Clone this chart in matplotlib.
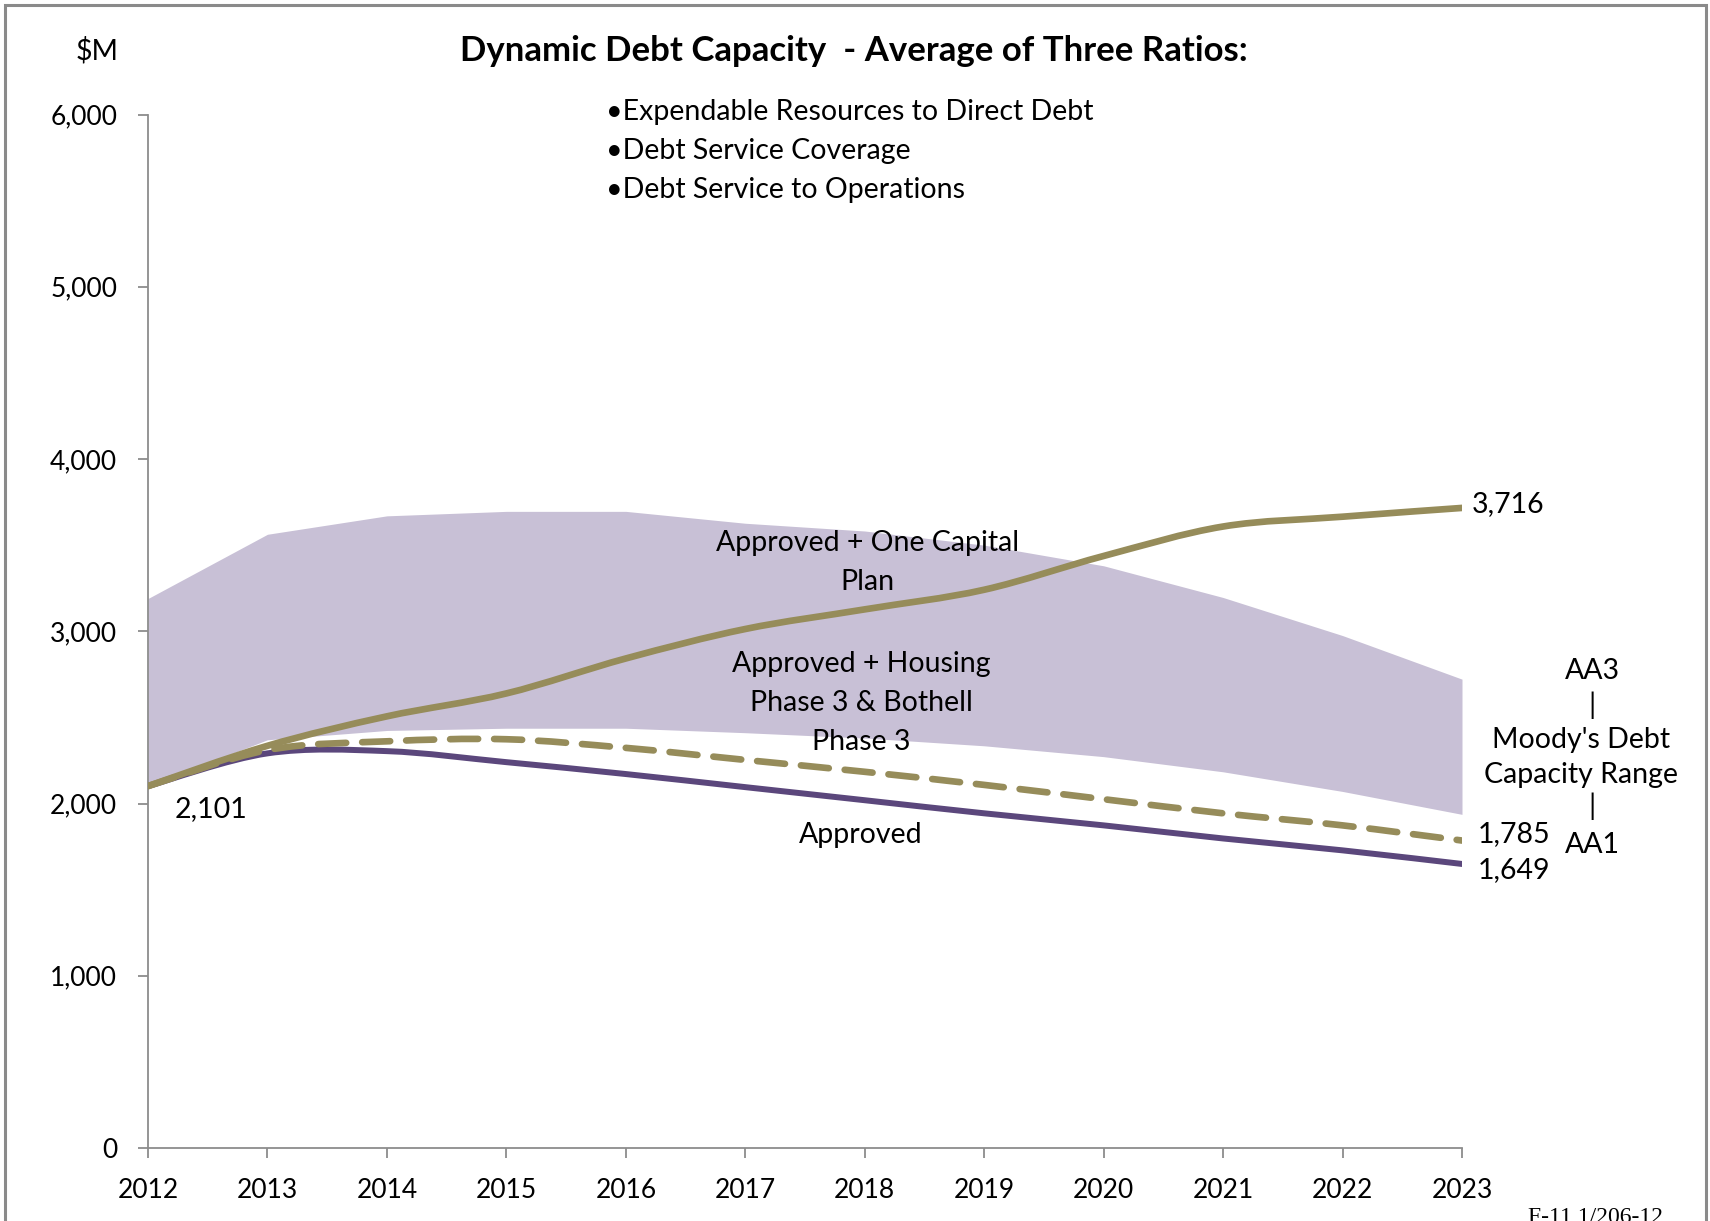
import matplotlib
matplotlib.use("Agg")
import matplotlib.pyplot as plt
from matplotlib.path import Path
from matplotlib.patches import PathPatch, Rectangle
import numpy as np

# ---- data ----
years = [2012, 2013, 2014, 2015, 2016, 2017, 2018, 2019, 2020, 2021, 2022, 2023]
band_low = [2101, 2370, 2424, 2437, 2437, 2411, 2380, 2335, 2272, 2184, 2070, 1937]
band_high = [3190, 3563, 3670, 3696, 3696, 3627, 3582, 3500, 3380, 3196, 2975, 2722]
one_capital = [2101, 2335, 2506, 2639, 2842, 3013, 3127, 3241, 3437, 3608, 3665, 3716]
housing_bothell = [2101, 2310, 2361, 2373, 2323, 2253, 2184, 2108, 2025, 1943, 1873, 1785]
approved = [2101, 2291, 2304, 2240, 2171, 2095, 2019, 1943, 1873, 1797, 1728, 1649]
yticks = [0, 1000, 2000, 3000, 4000, 5000, 6000]

FONT = ["Lato", "DejaVu Sans"]
plt.rcParams['font.family'] = FONT

GOLD = "#968C5A"
PURPLE = "#5B477C"
BAND = "#C8C0D6"
GREY = "#8C8C8C"
FS = 20.5

W, H = 1710, 1221
fig = plt.figure(figsize=(W / 100, H / 100), dpi=100)
ax = fig.add_axes([148 / W, 1 - 1148 / H, (1462 - 148) / W, (1148 - 114.5) / H])


def smooth_path(xs, ys):
    pts = np.column_stack([xs, ys]).astype(float)
    n = len(pts)
    verts = [pts[0]]
    codes = [Path.MOVETO]
    for i in range(n - 1):
        p0 = pts[i - 1] if i > 0 else pts[i]
        p1 = pts[i]
        p2 = pts[i + 1]
        p3 = pts[i + 2] if i + 2 < n else pts[i + 1]
        c1 = p1 + (p2 - p0) / 6.0
        c2 = p2 - (p3 - p1) / 6.0
        verts += [c1, c2, p2]
        codes += [Path.CURVE4] * 3
    return Path(verts, codes)


ax.fill_between(years, band_low, band_high, color=BAND, linewidth=0, zorder=1)

ax.add_patch(PathPatch(smooth_path(years, approved), fill=False, edgecolor=PURPLE,
                       linewidth=4.3, capstyle='round', zorder=3))
ax.add_patch(PathPatch(smooth_path(years, housing_bothell), fill=False, edgecolor=GOLD,
                       linewidth=4.8, linestyle=(0, (4.2, 2.4)), capstyle='round', zorder=4))
ax.add_patch(PathPatch(smooth_path(years, one_capital), fill=False, edgecolor=GOLD,
                       linewidth=4.8, capstyle='round', zorder=5))

ax.set_xlim(years[0], years[-1])
ax.set_ylim(yticks[0], yticks[-1])
ax.set_xticks(years)
ax.set_xticklabels([str(y) for y in years])
ax.set_yticks(yticks)
ax.set_yticklabels([f"{v:,}" for v in yticks])
for s in ["top", "right"]:
    ax.spines[s].set_visible(False)
for s in ["left", "bottom"]:
    ax.spines[s].set_color(GREY)
    ax.spines[s].set_linewidth(1.3)
ax.tick_params(axis='both', colors=GREY, length=7.2, width=1.3, labelsize=19,
               labelcolor="black")
ax.tick_params(axis='x', pad=14.5)
ax.tick_params(axis='y', pad=15)

# value labels
ax.text(years[-1] + 0.08, one_capital[-1] + 25, f"{one_capital[-1]:,}", fontsize=FS,
        va='center', ha='left', clip_on=False)
ax.text(years[-1] + 0.13, housing_bothell[-1] + 40, f"{housing_bothell[-1]:,}", fontsize=FS,
        va='center', ha='left', clip_on=False)
ax.text(years[-1] + 0.13, approved[-1] - 35, f"{approved[-1]:,}", fontsize=FS,
        va='center', ha='left', clip_on=False)
ax.text(years[0] + 0.22, approved[0] - 60, f"{approved[0]:,}", fontsize=FS,
        va='top', ha='left')

# series labels
ax.text(2018.02, 3400, "Approved + One Capital\nPlan", fontsize=FS, ha='center', va='center',
        linespacing=1.62)
ax.text(2017.97, 2583, "Approved + Housing\nPhase 3 & Bothell\nPhase 3", fontsize=FS,
        ha='center', va='center', linespacing=1.62)
ax.text(2017.97, 1820, "Approved", fontsize=FS, ha='center', va='center')

# title and notes
fig.text(460 / W, 1 - 51 / H, "Dynamic Debt Capacity  - Average of Three Ratios:",
         fontsize=25, fontweight='bold', ha='left', va='center')
fig.text(76 / W, 1 - 51 / H, "$M", fontsize=FS, ha='left', va='center')
for i, t in enumerate(["\u2022Expendable Resources to Direct Debt",
                       "\u2022Debt Service Coverage",
                       "\u2022Debt Service to Operations"]):
    fig.text(606 / W, 1 - (112 + 39 * i) / H, t, fontsize=FS, ha='left', va='center')

right_items = [("AA3", 1592, 671), ("|", 1592, 705), ("Moody's Debt", 1581, 740),
               ("Capacity Range", 1581, 775), ("|", 1592, 806), ("AA1", 1592, 845)]
for t, x, y in right_items:
    fig.text(x / W, 1 - y / H, t, fontsize=FS, ha='center', va='center')

fig.text(1528 / W, 1 - 1207 / H, "F-11 1/206-12", fontsize=17, ha='left', va='top',
         family=["Liberation Serif", "DejaVu Serif"])

# figure border
fig.patches.append(Rectangle((5 / W, -0.2), (1706 - 5) / W, 1.2 - 5 / H,
                             transform=fig.transFigure, fill=False,
                             edgecolor="#8A8A8A", linewidth=2.2))

fig.savefig("out.png", dpi=100, facecolor="white")
